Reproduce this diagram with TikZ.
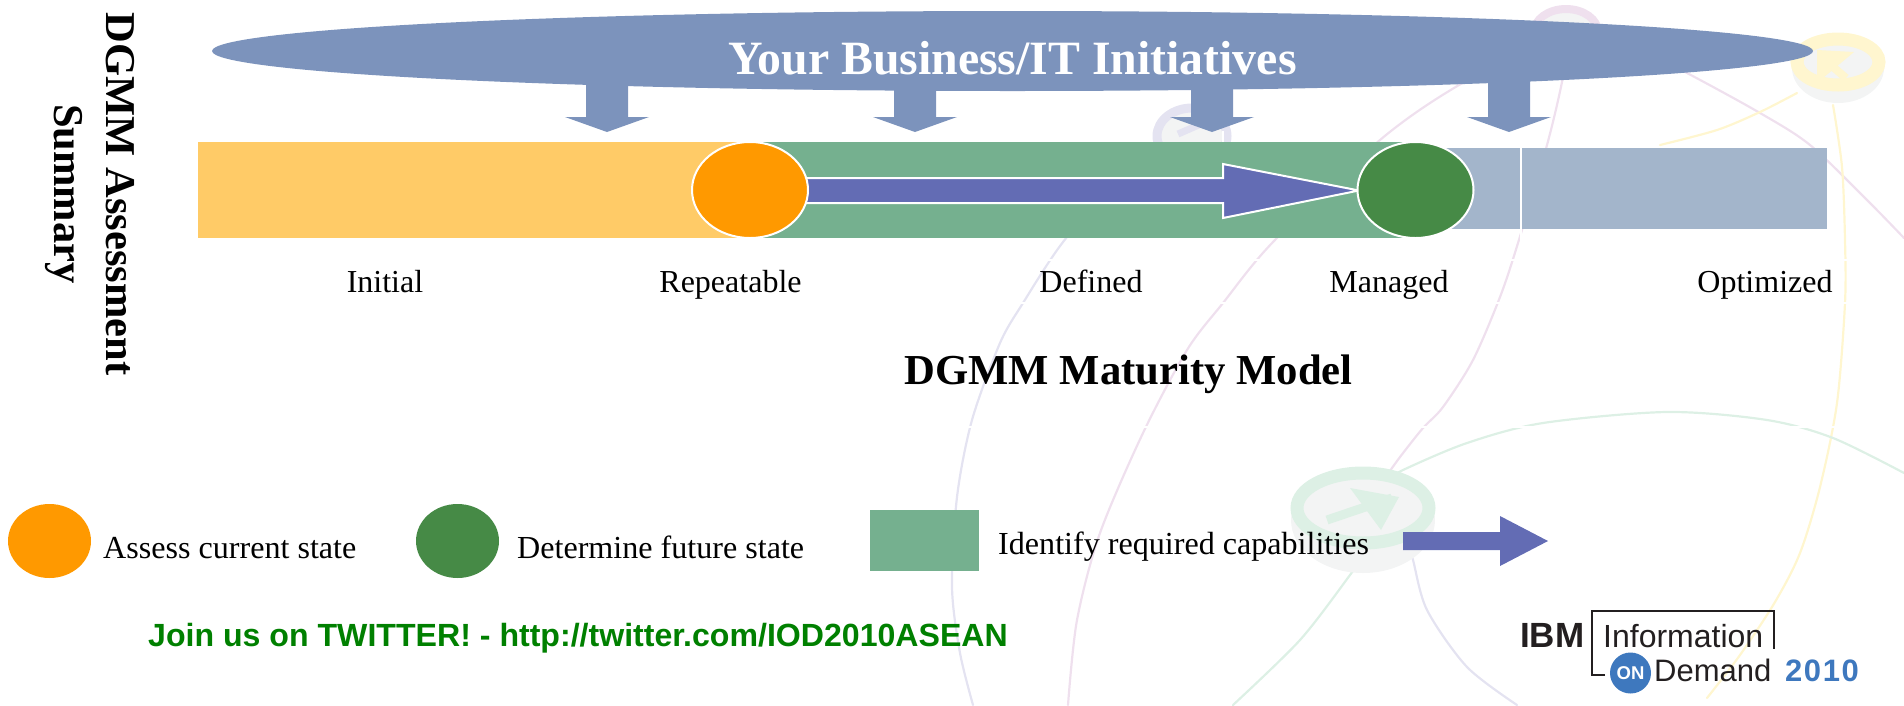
\documentclass[tikz,border=0pt]{standalone}
\usepackage{fontspec}
\usetikzlibrary{shapes.geometric}
\setmainfont{Liberation Serif}
\newfontfamily\arialfam{Liberation Sans}
\definecolor{ovalblue}{HTML}{7C93BC}
\definecolor{baryellow}{HTML}{FFCB67}
\definecolor{bargreen}{HTML}{75B08F}
\definecolor{barblue}{HTML}{A3B5CB}
\definecolor{dotorange}{HTML}{FF9900}
\definecolor{dotgreen}{HTML}{468A46}
\definecolor{arrowpurple}{HTML}{636CB4}
\definecolor{twgreen}{HTML}{008000}
\definecolor{logoblue}{HTML}{3E78BE}
\definecolor{logoblack}{HTML}{231F20}
\definecolor{wmpink}{HTML}{EFE0EE}
\definecolor{wmlav}{HTML}{E4E3F1}
\definecolor{wmgreen}{HTML}{DDF0E5}
\definecolor{wmyellow}{HTML}{FFF6CF}
\definecolor{wmgrey}{HTML}{F3F4F4}
\tikzset{
  wmline/.style={line width=2.2pt,line cap=round},
  wmring/.style={line width=13pt,fill=wmgrey},
  wmgap/.style={white,line width=1.6pt},
  stage/.style={anchor=base,inner sep=0pt,font=\fontsize{32}{36}\selectfont},
  legendtext/.style={anchor=base west,inner sep=0pt,font=\fontsize{32.1}{36}\selectfont},
  headline/.style={anchor=base,inner sep=0pt,font=\fontsize{42.7}{52}\selectfont\bfseries},
  dot/.style={ellipse,inner sep=0pt,minimum width=116pt,minimum height=96pt,draw=white,line width=2pt},
  legenddot/.style={ellipse,inner sep=0pt,minimum width=83pt,minimum height=74pt},
  initiative/.style={fill=ovalblue},
  logotext/.style={anchor=base west,inner sep=0pt,text=logoblack},
}
\begin{document}
\begin{tikzpicture}[x=1pt,y=-1pt]
\useasboundingbox (0,0) rectangle (1904,705);
\clip (0,0) rectangle (1904,705);
% watermark arcs
\draw[wmline,wmlav] plot[smooth] coordinates {(1125,170) (1063,242) (1023,303) (1000,343) (972,420) (957,497) (952,587) (960,653) (973,705)};
\draw[wmline,wmpink] plot[smooth] coordinates {(1566,30) (1459,85) (1380,140) (1273,242) (1223,303) (1187,350) (1143,433) (1100,533) (1077,620) (1068,705)};
\draw[wmline,wmpink] plot[smooth] coordinates {(1566,50) (1562,82) (1547,145) (1518,243) (1500,297) (1473,360) (1443,407) (1423,428) (1400,457) (1385,478)};
\draw[wmline,wmpink] plot[smooth] coordinates {(1640,50) (1687,73) (1760,113) (1810,145) (1867,200) (1904,238)};
\draw[wmline,wmyellow] plot[smooth] coordinates {(1797,93) (1760,112) (1717,130) (1660,145)};
\draw[wmline,wmyellow] plot[smooth] coordinates {(1833,105) (1842,167) (1845,240) (1845,303) (1837,403) (1820,487) (1800,553) (1775,602) (1740,655) (1707,698)};
\draw[wmline,wmgreen] plot[smooth] coordinates {(1388,480) (1403,470) (1467,443) (1543,423) (1667,412) (1767,420) (1833,438) (1904,473)};
\draw[wmline,wmgreen] plot[smooth] coordinates {(1360,560) (1350,575) (1300,640) (1233,705)};
\draw[wmline,wmlav] plot[smooth] coordinates {(1408,545) (1413,560) (1427,610) (1467,667) (1517,705)};
\foreach \gapy in {260,303,427} \draw[wmgap] (900,\gapy) -- (1880,\gapy);
% watermark rings
\fill[wmgrey] (1363,520) ellipse [x radius=72,y radius=53];
\draw[wmring,draw=wmgreen] (1363,508) ellipse [x radius=66,y radius=35];
\draw[wmgreen,line width=9pt] (1327,520) -- (1392,498);
\fill[wmgreen] (1350,488) -- (1399,497) -- (1381,530) -- cycle;
\fill[wmgrey] (1838,68) ellipse [x radius=46,y radius=35];
\draw[wmring,draw=wmyellow] (1838,62) ellipse [x radius=41,y radius=23];
\draw[wmyellow,line width=8pt] (1820,56) -- (1846,78);
\fill[wmyellow] (1817,50) -- (1854,52) -- (1817,83) -- cycle;
\draw[line width=8pt,draw=wmpink,fill=wmgrey] (1566,32) ellipse [x radius=32,y radius=23];
\draw[line width=9pt,draw=wmlav,fill=wmgrey] (1192,136) ellipse [x radius=35,y radius=28];
\draw[wmlav,line width=7pt] (1178,134) -- (1210,120);
\draw[white,line width=2pt] (1223,131) -- (1223,142);
% bar
\fill[baryellow] (198,142) rectangle (760,238);
\fill[barblue] (1400,148) rectangle (1827,229);
\fill[bargreen] (750,142) rectangle (1415,238);
\draw[white,line width=2.5pt] (1521,148) -- (1521,241);
% initiatives oval and its down arrows
\node[initiative,ellipse,inner sep=0pt,minimum width=1601pt,minimum height=80pt] (oval) at (1012.5,51) {};
\foreach \ax in {607,915,1212,1509}
  \fill[initiative] (\ax-21,70) -- (\ax+21,70) -- (\ax+21,117) -- (\ax+42,117) -- (\ax,132) -- (\ax-42,117) -- (\ax-21,117) -- cycle;
\node[anchor=base,inner sep=0pt,text=white,font=\fontsize{47.8}{56}\selectfont\bfseries] (title) at (1012.5,74) {Your Business/IT Initiatives};
% progress arrow and state dots
\filldraw[draw=white,line width=2pt,fill=arrowpurple] (800,178) -- (1223,178) -- (1223,164) -- (1359,190.5) -- (1223,218) -- (1223,203) -- (800,203) -- cycle;
\node[dot,fill=dotorange] (current) at (750,190) {};
\node[dot,fill=dotgreen] (future) at (1415.5,190) {};
% stage labels
\node[stage] (initial) at (385,292) {Initial};
\node[stage] (repeatable) at (730.5,292) {Repeatable};
\node[stage] (defined) at (1091,292) {Defined};
\node[stage] (managed) at (1389,292) {Managed};
\node[stage] (optimized) at (1765,292) {Optimized};
\node[headline] (model) at (1128.5,384) {DGMM Maturity Model};
\node[inner sep=0pt,rotate=-90,align=center,font=\fontsize{42.5}{52}\selectfont\bfseries] (summary) at (90,194) {DGMM Assessment\\Summary};
% legend
\node[legenddot,fill=dotorange] (lgdot1) at (49.5,541) {};
\node[legendtext] (lg1) at (103,558) {Assess current state};
\node[legenddot,fill=dotgreen] (lgdot2) at (457.5,541) {};
\node[legendtext] (lg2) at (517,558) {Determine future state};
\fill[bargreen] (870,510) rectangle (979,571);
\node[legendtext] (lg3) at (998,554) {Identify required capabilities};
\fill[arrowpurple] (1403,532) -- (1500,532) -- (1500,516) -- (1548,541) -- (1500,566) -- (1500,550) -- (1403,550) -- cycle;
\node[anchor=base west,inner sep=0pt,text=twgreen,font=\arialfam\fontsize{32.1}{36}\selectfont\bfseries] (twitter) at (148,646) {Join us on TWITTER! - http://twitter.com/IOD2010ASEAN};
% logo
\node[logotext,font=\arialfam\fontsize{35}{40}\selectfont\bfseries] (ibm) at (1520,647) {IBM};
\draw[logoblack,line width=2.2pt] (1605,675) -- (1592,675) -- (1592,611) -- (1774,611) -- (1774,649);
\node[logotext,font=\arialfam\fontsize{32}{38}\selectfont] (info) at (1603,647) {Information};
\node[circle,fill=logoblue,inner sep=0pt,minimum size=41pt,text=white,font=\arialfam\fontsize{18.5}{24}\selectfont\bfseries] (on) at (1630.5,673) {ON};
\node[logotext,font=\arialfam\fontsize{31}{36}\selectfont] (demand) at (1654,681) {Demand};
\node[anchor=base west,inner sep=0pt,text=logoblue,font=\arialfam\fontsize{31}{36}\selectfont\bfseries\addfontfeature{LetterSpace=5}] (year) at (1785,681) {2010};
\end{tikzpicture}
\end{document}
